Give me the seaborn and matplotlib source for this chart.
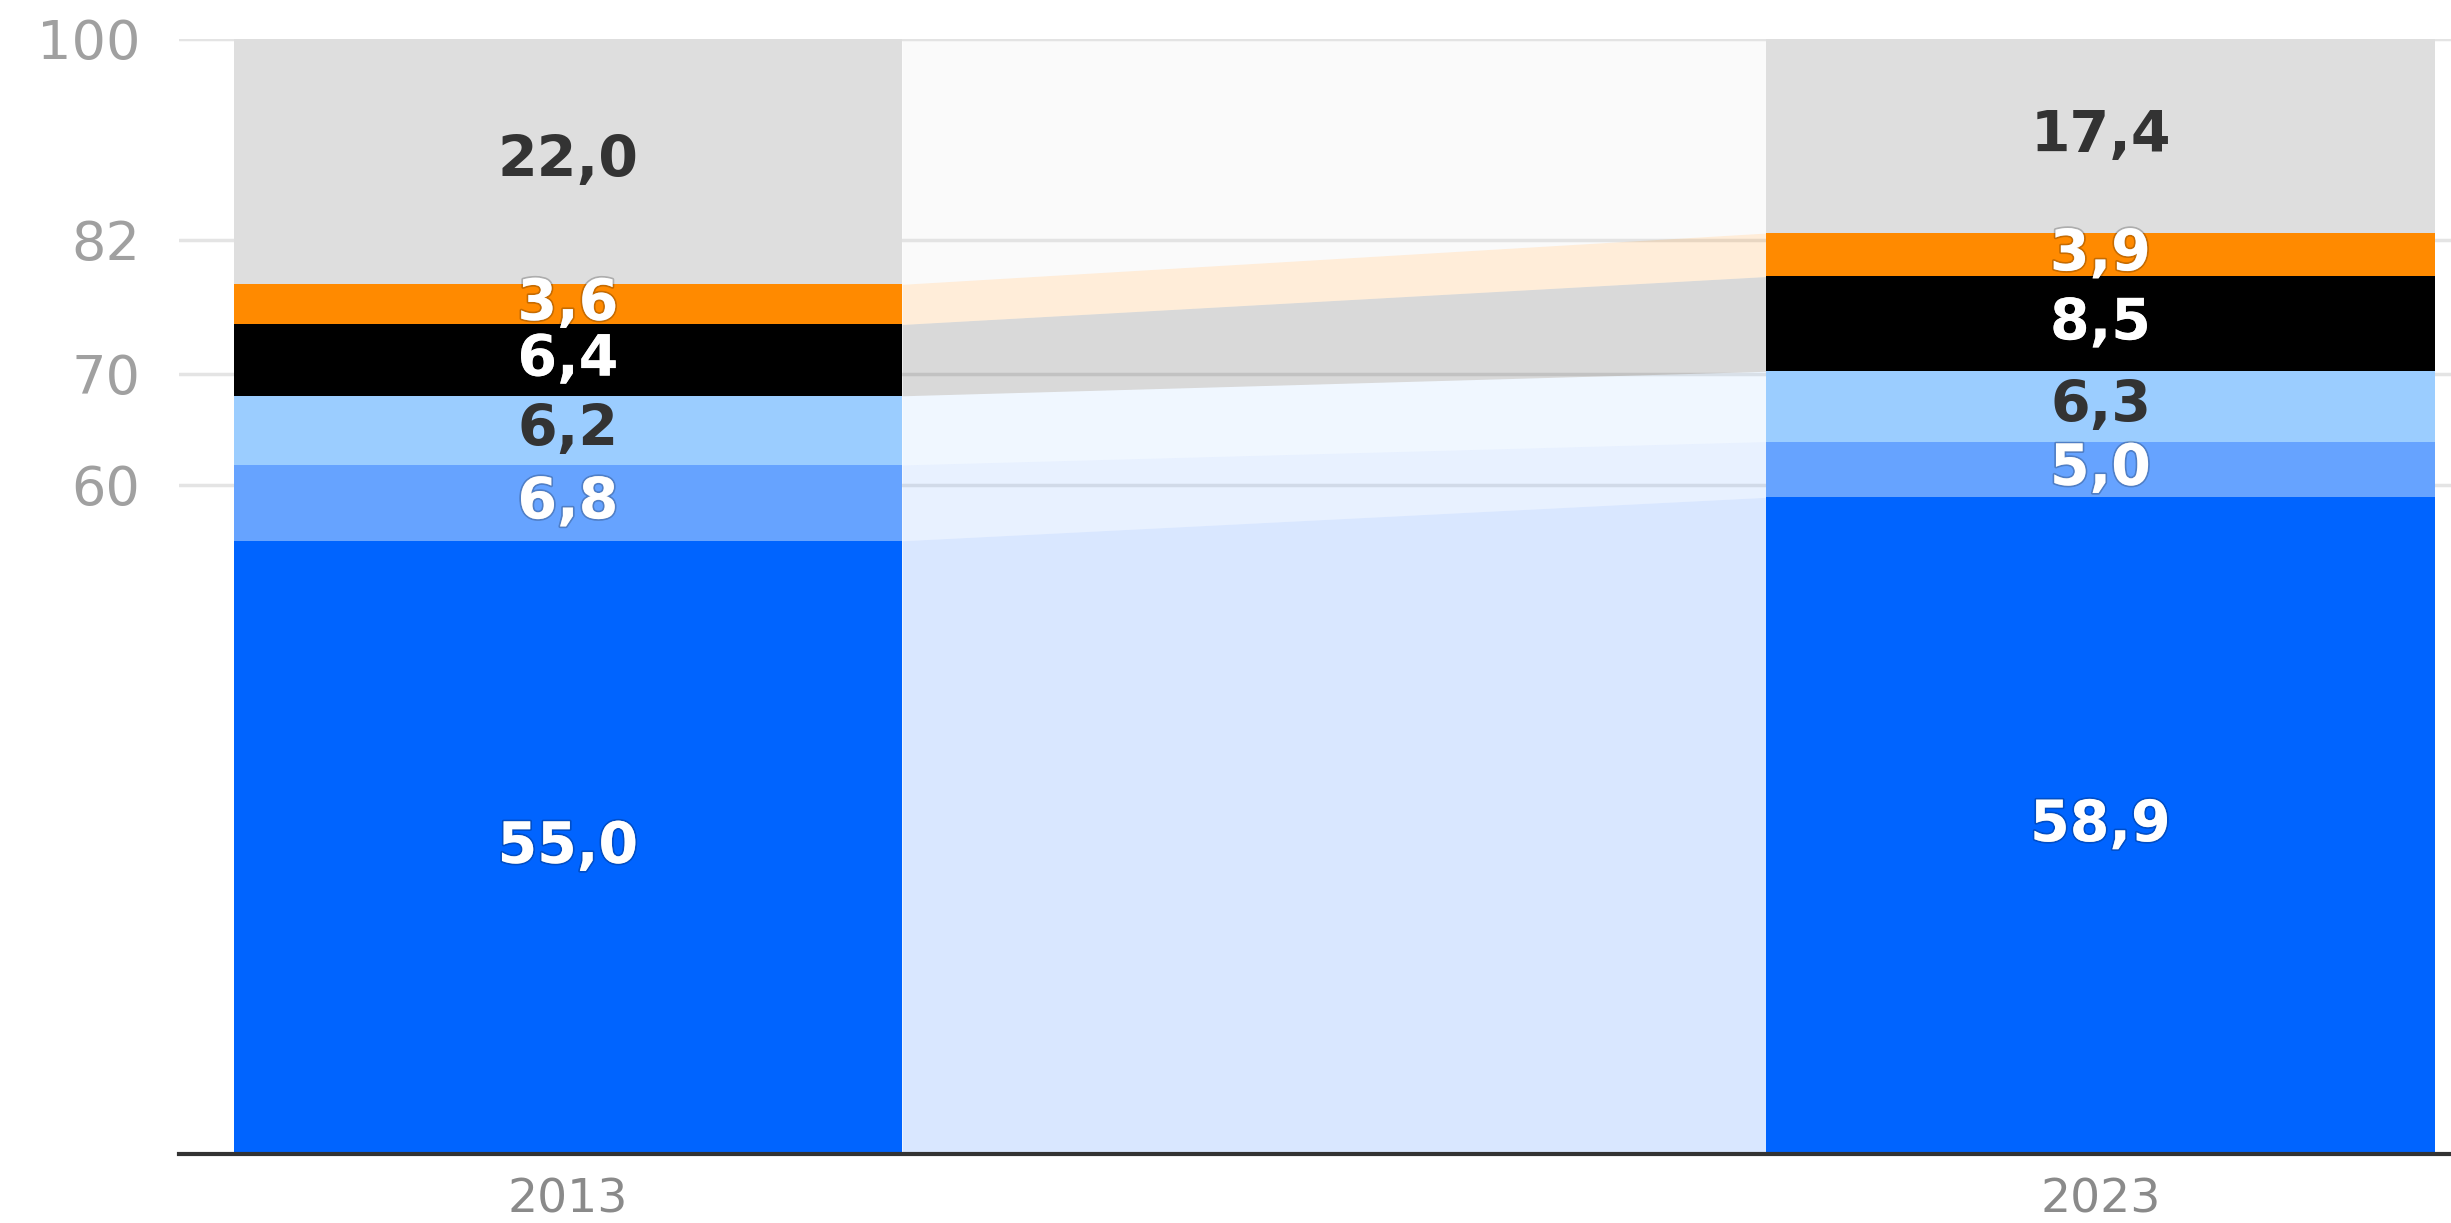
import matplotlib

matplotlib.use("Agg")

import matplotlib.pyplot as plt
import matplotlib.patheffects as pe
import numpy as np
import seaborn as sns

# data
years = ["2013", "2023"]
share_blue = [55.0, 58.9]
share_midblue = [6.8, 5.0]
share_lightblue = [6.2, 6.3]
share_black = [6.4, 8.5]
share_orange = [3.6, 3.9]
share_other = [22.0, 17.4]
ytick_values = [60, 70, 82, 100]

# bottom to top: values, fill colour, label colour
LAYERS = [
    (share_blue, "#0064FF", "white"),
    (share_midblue, "#66A3FF", "white"),
    (share_lightblue, "#9BCDFF", "#333333"),
    (share_black, "#000000", "white"),
    (share_orange, "#FF8A00", "white"),
    (share_other, "#DEDEDE", "#333333"),
]
BAR_WIDTH = 0.436
BAND_ALPHA = 0.15


def fmt(value: float) -> str:
    return f"{value:.1f}".replace(".", ",")


def main() -> None:
    sns.set_theme(style="white")
    plt.rcParams["font.family"] = ["DejaVu Sans"]

    fig = plt.figure(figsize=(24.51, 12.23), dpi=100)
    ax = fig.add_axes([179 / 2451, 1 - 1154 / 1223, 1 - 179 / 2451, (1154 - 39) / 1223])

    tops = np.cumsum([layer[0] for layer in LAYERS], axis=0)
    bottoms = tops - np.array([layer[0] for layer in LAYERS])

    # stacked bars: draw cumulative heights from the top layer down
    for idx in range(len(LAYERS) - 1, -1, -1):
        _, color, _ = LAYERS[idx]
        sns.barplot(
            x=years,
            y=tops[idx],
            color=color,
            saturation=1,
            width=BAR_WIDTH,
            errorbar=None,
            linewidth=0,
            edgecolor="none",
            ax=ax,
            zorder=3,
        )

    # connecting bands between the two bars
    x_band = [0 + BAR_WIDTH / 2, 1 - BAR_WIDTH / 2]
    for idx, (_, color, _) in enumerate(LAYERS):
        ax.fill_between(x_band, bottoms[idx], tops[idx], color=color, alpha=BAND_ALPHA, linewidth=0, zorder=2)

    # value labels
    for idx, (values, _, text_color) in enumerate(LAYERS):
        for pos, value in enumerate(values):
            effects = []
            if text_color == "white":
                effects = [pe.withStroke(linewidth=2.5, foreground=(0, 0, 0, 0.22))]
            ax.text(
                pos,
                (bottoms[idx][pos] + tops[idx][pos]) / 2,
                fmt(value),
                ha="center",
                va="center",
                fontsize=41,
                fontweight="bold",
                color=text_color,
                path_effects=effects,
                zorder=5,
            )

    ax.set_xlim(-0.2538, 1.2287)
    ax.set_ylim(0, 100)
    ax.set_yticks(ytick_values)
    ax.set_yticklabels([str(v) for v in ytick_values])
    ax.yaxis.grid(True, color="#E4E4E4", linewidth=2.5)
    ax.xaxis.grid(False)
    ax.set_axisbelow(True)
    ax.set_xlabel("")
    ax.set_ylabel("")

    for side in ["top", "right", "left"]:
        ax.spines[side].set_visible(False)
    ax.spines["bottom"].set_color("#333333")
    ax.spines["bottom"].set_linewidth(3)
    ax.spines["bottom"].set_zorder(6)

    ax.tick_params(axis="y", length=0, pad=28, labelsize=39, labelcolor="#A0A0A0")
    ax.tick_params(axis="x", length=0, pad=17, labelsize=34, labelcolor="#8A8A8A")

    fig.savefig("out.png", dpi=100)
    plt.close(fig)


if __name__ == "__main__":
    main()
